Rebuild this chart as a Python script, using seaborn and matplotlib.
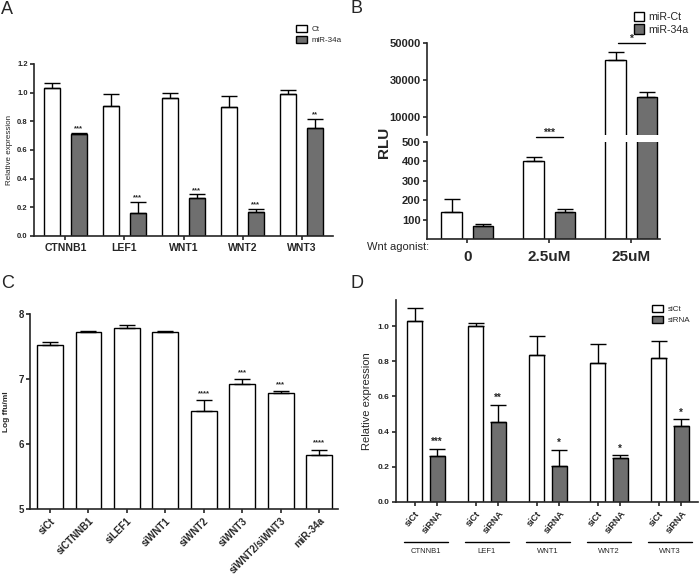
import numpy as np
import pandas as pd
import matplotlib
matplotlib.use("Agg")
import matplotlib.pyplot as plt
import seaborn as sns

# --- Panel A: miR-34a effect on Wnt genes ---
genes = ["CTNNB1", "LEF1", "WNT1", "WNT2", "WNT3"]
a_ct = [1.035, 0.91, 0.96, 0.90, 0.99]
a_ct_err = [0.035, 0.08, 0.04, 0.075, 0.03]
a_mir = [0.71, 0.16, 0.265, 0.165, 0.755]
a_mir_err = [0.008, 0.08, 0.025, 0.025, 0.06]
a_stars = ["***", "***", "***", "***", "**"]

# --- Panel B: luciferase (RLU) with Wnt agonist ---
doses = ["0", "2.5uM", "25uM"]
b_ct = [138, 403, 40800]
b_ct_err = [68, 22, 4500]
b_mir = [68, 138, 20600]
b_mir_err = [7, 16, 3100]

# --- Panel C: titres after knockdown ---
c_labels = ["siCt", "siCTNNB1", "siLEF1", "siWNT1", "siWNT2", "siWNT3", "siWNT2/siWNT3", "miR-34a"]
c_vals = [7.52, 7.73, 7.79, 7.73, 6.51, 6.92, 6.79, 5.83]
c_err = [0.045, 0.015, 0.04, 0.015, 0.16, 0.075, 0.02, 0.08]
c_stars = ["", "", "", "", "****", "***", "***", "****"]

# --- Panel D: siRNA knockdown efficiency ---
d_sict = [1.03, 1.0, 0.835, 0.79, 0.82]
d_sict_err = [0.075, 0.015, 0.11, 0.11, 0.095]
d_sirna = [0.26, 0.455, 0.205, 0.25, 0.43]
d_sirna_err = [0.04, 0.095, 0.09, 0.015, 0.04]
d_stars = ["***", "**", "*", "*", "*"]

GREY = "#6f6f6f"
W, H = 700, 579

sns.set_style("ticks")
plt.rcParams["font.family"] = ["Liberation Sans", "DejaVu Sans"]
plt.rcParams["axes.linewidth"] = 1.2
plt.rcParams["xtick.major.width"] = 1.2
plt.rcParams["ytick.major.width"] = 1.2
plt.rcParams["xtick.major.size"] = 3
plt.rcParams["ytick.major.size"] = 3
plt.rcParams["xtick.major.pad"] = 2
plt.rcParams["ytick.major.pad"] = 1.5

fig = plt.figure(figsize=(7, 5.79), dpi=100)


def box(l, t, r, b):
    return [l / W, 1 - b / H, (r - l) / W, (b - t) / H]


def add_errors(ax, bars, errs, stars=None, fs=6, off=3, ymin=None):
    for i, (bar, e) in enumerate(zip(bars, errs)):
        x = bar.get_x() + bar.get_width() / 2
        h = bar.get_height()
        if ymin is not None and h < ymin:
            bar.set_visible(False)
            continue
        ax.errorbar(x, h, yerr=[[0], [e]], color="black", capsize=6, lw=1.0, capthick=1.0)
        if stars and stars[i]:
            ax.annotate(stars[i], (x, h + e), xytext=(0, off), textcoords="offset points",
                        ha="center", va="center", fontsize=fs, fontweight="bold")


def bold_ticks(ax, xs, ys):
    for t in ax.get_xticklabels():
        t.set_fontweight("bold")
        t.set_fontsize(xs)
    for t in ax.get_yticklabels():
        t.set_fontweight("bold")
        t.set_fontsize(ys)


# ---------------- A ----------------
ax = fig.add_axes(box(34, 64, 333, 236))
df_a = pd.DataFrame({"gene": genes * 2,
                     "group": ["Ct"] * 5 + ["miR-34a"] * 5,
                     "value": a_ct + a_mir})
sns.barplot(data=df_a, x="gene", y="value", hue="group", palette=["white", GREY],
            saturation=1, edgecolor="black", linewidth=1.0, width=0.9, gap=0.4,
            errorbar=None, ax=ax)
add_errors(ax, ax.containers[0], a_ct_err)
add_errors(ax, ax.containers[1], a_mir_err, a_stars, fs=5.5, off=3)
ax.set_xlim(-0.53, 4.53)
ax.set_ylim(0, 1.2)
ax.set_yticks(np.arange(0, 1.21, 0.2))
ax.set_yticklabels([f"{v:.1f}" for v in np.arange(0, 1.21, 0.2)])
ax.set_xlabel("")
ax.set_ylabel("Relative expression", fontsize=5.8, labelpad=3)
bold_ticks(ax, 7.5, 5.5)
sns.despine(ax=ax)
h, l = ax.get_legend_handles_labels()
ax.legend(h, l, loc="upper left", bbox_to_anchor=(289 / W, 1 - 18 / H),
          bbox_transform=fig.transFigure, frameon=False, fontsize=5.8,
          handlelength=1.3, handleheight=0.9, labelspacing=0.35, handletextpad=0.6)

# ---------------- B (broken y axis) ----------------
y_top_px = 43 + (50000 - 500) / 20000 * 37
axt = fig.add_axes(box(427, 43, 660, y_top_px))
axb = fig.add_axes(box(427, 142, 660, 239))
df_b = pd.DataFrame({"dose": doses * 2,
                     "group": ["miR-Ct"] * 3 + ["miR-34a"] * 3,
                     "value": b_ct + b_mir})
for a, lo in ((axt, 500), (axb, None)):
    sns.barplot(data=df_b, x="dose", y="value", hue="group", palette=["white", GREY],
                saturation=1, edgecolor="black", linewidth=1.0, width=0.76, gap=0.34,
                errorbar=None, ax=a)
    add_errors(a, a.containers[0], b_ct_err, ymin=lo)
    add_errors(a, a.containers[1], b_mir_err, ymin=lo)
    a.set_xlim(-0.49, 2.35)
    a.set_xlabel("")
    a.set_ylabel("")
    sns.despine(ax=a)
axt.set_ylim(500, 50000)
axt.set_yticks([10000, 30000, 50000])
axt.spines["bottom"].set_visible(False)
axt.tick_params(axis="x", bottom=False, labelbottom=False)
axt.get_legend().remove()
axb.set_ylim(0, 500)
axb.set_yticks([100, 200, 300, 400, 500])
bold_ticks(axt, 10, 8)
bold_ticks(axb, 11, 8)
axb.tick_params(axis="x", pad=5)

# significance bars
for a, g, yv in ((axb, 1, 526), (axt, 2, 50000)):
    a.plot([g - 0.165, g + 0.165], [yv, yv], color="black", lw=1.0, clip_on=False)
axb.annotate("***", (1, 526), xytext=(0, 3), textcoords="offset points",
             ha="center", va="center", fontsize=7.5, fontweight="bold", annotation_clip=False)
axt.annotate("*", (2, 50000), xytext=(0, 3), textcoords="offset points",
             ha="center", va="center", fontsize=7.5, fontweight="bold", annotation_clip=False)

h, l = axb.get_legend_handles_labels()
axb.legend(h, l, loc="upper left", bbox_to_anchor=(624 / W, 1 - 2 / H),
           bbox_transform=fig.transFigure, frameon=False, fontsize=7.7,
           handlelength=1.0, handleheight=1.0, labelspacing=0.2, handletextpad=0.4)
fig.text(367 / W, 1 - 247 / H, "Wnt agonist:", fontsize=8, va="center", ha="left")
fig.text(384 / W, 1 - 142 / H, "RLU", fontsize=11, fontweight="bold",
         rotation=90, va="center", ha="center")

# ---------------- C ----------------
ax = fig.add_axes(box(30, 314, 338, 509))
sns.barplot(x=c_labels, y=c_vals, color="white", saturation=1, edgecolor="black",
            linewidth=1.0, width=0.67, errorbar=None, ax=ax)
add_errors(ax, ax.containers[0], c_err, c_stars, fs=5.5, off=5)
ax.set_xlim(-0.52, 7.49)
ax.set_ylim(5, 8)
ax.set_yticks([5, 6, 7, 8])
ax.set_ylabel("Log ffu/ml", fontsize=6, fontweight="bold", labelpad=6)
ax.set_xticks(range(len(c_labels)))
ax.set_xticklabels(c_labels, rotation=45, ha="right", rotation_mode="anchor")
bold_ticks(ax, 7, 7)
sns.despine(ax=ax)

# ---------------- D ----------------
ax = fig.add_axes(box(396, 300, 698, 502))
df_d = pd.DataFrame({"gene": genes * 2,
                     "group": ["siCt"] * 5 + ["siRNA"] * 5,
                     "value": d_sict + d_sirna})
sns.barplot(data=df_d, x="gene", y="value", hue="group", palette=["white", GREY],
            saturation=1, edgecolor="black", linewidth=1.0, width=0.74, gap=0.32,
            errorbar=None, ax=ax)
add_errors(ax, ax.containers[0], d_sict_err)
add_errors(ax, ax.containers[1], d_sirna_err, d_stars, fs=7, off=5)
ax.set_xlim(-0.49, 4.46)
ax.set_ylim(0, 1.148)
ax.set_yticks(np.arange(0, 1.01, 0.2))
ax.set_yticklabels([f"{v:.1f}" for v in np.arange(0, 1.01, 0.2)])
ax.set_xlabel("")
ax.set_ylabel("Relative expression", fontsize=8, labelpad=4)
centers, labs = [], []
for cont, name in zip(ax.containers, ["siCt", "siRNA"]):
    for bar in cont:
        centers.append(bar.get_x() + bar.get_width() / 2)
        labs.append(name)
order = np.argsort(centers)
ax.set_xticks([centers[i] for i in order])
ax.set_xticklabels([labs[i] for i in order], rotation=50, ha="right", rotation_mode="anchor")
bold_ticks(ax, 6.5, 6)
sns.despine(ax=ax)
tr = ax.get_xaxis_transform()
for i, g in enumerate(genes):
    ax.plot([i - 0.36, i + 0.36], [-0.198, -0.198], color="black", lw=1.0,
            transform=tr, clip_on=False)
    ax.text(i, -0.245, g, transform=tr, ha="center", va="center", fontsize=5.5)
h, l = ax.get_legend_handles_labels()
ax.legend(h, l, loc="upper left", bbox_to_anchor=(645 / W, 1 - 298 / H),
          bbox_transform=fig.transFigure, frameon=False, fontsize=5.8,
          handlelength=1.3, handleheight=0.9, labelspacing=0.35, handletextpad=0.6)

# panel letters
for x0, y0, letter in ((1, 1, "A"), (350, 0, "B"), (1, 275, "C"), (350, 275, "D")):
    fig.text(x0 / W, 1 - y0 / H, letter, fontsize=13, va="top", ha="left")

fig.savefig("out.png", dpi=100)
